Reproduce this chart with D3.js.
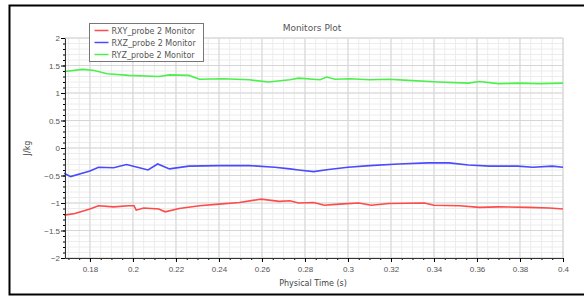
<!DOCTYPE html>
<html>
<head>
<meta charset="utf-8">
<script src="https://cdn.jsdelivr.net/npm/d3@7"></script>
<style>
  body { margin: 0; background: #fff; }
  svg { display: block; font-family: "DejaVu Sans", sans-serif; }
</style>
</head>
<body>
<div class="chart"></div>
<script>
// Monitor series
const tRXY = [0.168, 0.173, 0.180, 0.184, 0.191, 0.198, 0.2005, 0.2015, 0.205, 0.212, 0.215, 0.2215, 0.231, 0.240, 0.2495, 0.2596, 0.268, 0.273, 0.277, 0.284, 0.289, 0.296, 0.305, 0.3108, 0.319, 0.3355, 0.340, 0.352, 0.361, 0.370, 0.384, 0.3936, 0.4];
const vRXY = [-1.22, -1.19, -1.11, -1.05, -1.07, -1.05, -1.05, -1.13, -1.09, -1.11, -1.16, -1.10, -1.05, -1.02, -0.99, -0.93, -0.97, -0.96, -1.00, -0.99, -1.04, -1.02, -1.00, -1.04, -1.01, -1.00, -1.04, -1.05, -1.08, -1.07, -1.08, -1.09, -1.11];

const tRXZ = [0.168, 0.171, 0.180, 0.184, 0.191, 0.197, 0.203, 0.207, 0.2115, 0.217, 0.226, 0.240, 0.254, 0.266, 0.273, 0.277, 0.284, 0.291, 0.300, 0.310, 0.3235, 0.337, 0.347, 0.356, 0.366, 0.379, 0.386, 0.395, 0.4];
const vRXZ = [-0.46, -0.52, -0.42, -0.35, -0.36, -0.30, -0.36, -0.40, -0.29, -0.38, -0.33, -0.32, -0.32, -0.35, -0.38, -0.40, -0.43, -0.39, -0.35, -0.32, -0.29, -0.27, -0.27, -0.31, -0.33, -0.33, -0.35, -0.33, -0.35];

const tRYZ = [0.168, 0.1768, 0.182, 0.188, 0.198, 0.212, 0.217, 0.226, 0.231, 0.242, 0.254, 0.263, 0.273, 0.277, 0.287, 0.290, 0.294, 0.301, 0.310, 0.319, 0.328, 0.342, 0.356, 0.361, 0.370, 0.380, 0.389, 0.4];
const vRYZ = [1.39, 1.43, 1.41, 1.35, 1.32, 1.30, 1.33, 1.32, 1.25, 1.26, 1.24, 1.20, 1.24, 1.27, 1.24, 1.29, 1.25, 1.26, 1.24, 1.25, 1.23, 1.20, 1.18, 1.21, 1.17, 1.18, 1.17, 1.18];

const seriesNames = ["RXY_probe 2 Monitor", "RXZ_probe 2 Monitor", "RYZ_probe 2 Monitor"];
const seriesColors = ["#ff4a4a", "#4a4aff", "#4cf04c"];
const xTicks = [0.18, 0.2, 0.22, 0.24, 0.26, 0.28, 0.3, 0.32, 0.34, 0.36, 0.38, 0.4];
const yTicks = [-2, -1.5, -1, -0.5, 0, 0.5, 1, 1.5, 2];

var width = 584;
var height = 297;
var padding = {left: 65, right: 21, top: 38, bottom: 39};
var plotW = width - padding.left - padding.right;
var plotH = height - padding.top - padding.bottom;

var svg = d3.select(".chart")
    .append("svg")
    .attr("width", width)
    .attr("height", height);

// outer frame (right side runs off the picture)
svg.append("rect")
    .attr("x", 9.5).attr("y", 5.5)
    .attr("width", 590).attr("height", 289)
    .attr("fill", "none")
    .attr("stroke", "#000")
    .attr("stroke-width", 2);

var xScale = d3.scaleLinear()
    .domain([0.1684, 0.4])
    .range([0, plotW]);
var yScale = d3.scaleLinear()
    .domain([-2, 2])
    .range([plotH, 0]);

var g = svg.append("g")
    .attr("transform", "translate(" + padding.left + "," + padding.top + ")");

// minor grid
var xMinor = d3.range(0.17, 0.4001, 0.005);
var yMinor = d3.range(-2, 2.001, 0.1);
g.selectAll(".vminor").data(xMinor).enter().append("line")
    .attr("x1", function(d){ return xScale(d); })
    .attr("x2", function(d){ return xScale(d); })
    .attr("y1", 0).attr("y2", plotH)
    .attr("stroke", "#ececec");
g.selectAll(".hminor").data(yMinor).enter().append("line")
    .attr("y1", function(d){ return yScale(d); })
    .attr("y2", function(d){ return yScale(d); })
    .attr("x1", 0).attr("x2", plotW)
    .attr("stroke", "#ececec");
// major grid
g.selectAll(".vmajor").data(xTicks).enter().append("line")
    .attr("x1", function(d){ return xScale(d); })
    .attr("x2", function(d){ return xScale(d); })
    .attr("y1", 0).attr("y2", plotH)
    .attr("stroke", "#d6d6d6");
g.selectAll(".hmajor").data(yTicks).enter().append("line")
    .attr("y1", function(d){ return yScale(d); })
    .attr("y2", function(d){ return yScale(d); })
    .attr("x1", 0).attr("x2", plotW)
    .attr("stroke", "#d6d6d6");
g.append("rect")
    .attr("width", plotW).attr("height", plotH)
    .attr("fill", "none").attr("stroke", "#ddd");

// series lines
var tData = [tRXY, tRXZ, tRYZ];
var vData = [vRXY, vRXZ, vRYZ];
var line = d3.line()
    .x(function(d){ return xScale(d[0]); })
    .y(function(d){ return yScale(d[1]); });
for (let i = 0; i < 3; i++) {
    var pts = tData[i].map(function(t, j){ return [t, vData[i][j]]; });
    g.append("path")
        .datum(pts)
        .attr("d", line)
        .attr("fill", "none")
        .attr("stroke", seriesColors[i])
        .attr("stroke-width", 1.6);
}

// axes with minor ticks
g.append("g")
    .attr("transform", "translate(0," + plotH + ")")
    .call(d3.axisBottom(xScale).tickValues(xMinor).tickSize(2).tickFormat(""))
    .call(function(s){ s.select(".domain").remove(); });
var xAxis = g.append("g")
    .attr("transform", "translate(0," + plotH + ")")
    .call(d3.axisBottom(xScale).tickValues(xTicks).tickSize(4).tickSizeOuter(0)
        .tickFormat(function(d){ return d3.format("~g")(d); }));
xAxis.select(".domain").attr("stroke", "#333");
xAxis.selectAll("text").attr("fill", "#555").style("font-size", "8px").attr("y", 8);

g.append("g")
    .call(d3.axisLeft(yScale).tickValues(yMinor).tickSize(2).tickFormat(""))
    .call(function(s){ s.select(".domain").remove(); });
var yAxis = g.append("g")
    .call(d3.axisLeft(yScale).tickValues(yTicks).tickSize(4).tickSizeOuter(0)
        .tickFormat(function(d){ return d3.format("~g")(d); }));
yAxis.select(".domain").attr("stroke", "#333");
yAxis.selectAll("text").attr("fill", "#555").style("font-size", "8px").attr("x", -5);

// titles
svg.append("text")
    .attr("x", 312).attr("y", 31)
    .attr("text-anchor", "middle")
    .attr("fill", "#555")
    .style("font-size", "9px")
    .text("Monitors Plot");
svg.append("text")
    .attr("x", 313).attr("y", 286)
    .attr("text-anchor", "middle")
    .attr("fill", "#444")
    .style("font-size", "8px")
    .text("Physical Time (s)");
svg.append("text")
    .attr("transform", "translate(30," + (padding.top + yScale(0)) + ") rotate(-90)")
    .attr("text-anchor", "middle")
    .attr("fill", "#444")
    .style("font-size", "8px")
    .text("J/kg");

// legend
var legend = svg.append("g").attr("transform", "translate(89.5,23.5)");
legend.append("rect")
    .attr("width", 114).attr("height", 38)
    .attr("fill", "#fff").attr("stroke", "#777");
seriesNames.forEach(function(name, i){
    var y = 7 + i * 12;
    legend.append("line")
        .attr("x1", 5).attr("x2", 19)
        .attr("y1", y).attr("y2", y)
        .attr("stroke", seriesColors[i]).attr("stroke-width", 1.5);
    legend.append("text")
        .attr("x", 22).attr("y", y + 3)
        .attr("fill", "#555")
        .style("font-size", "8px")
        .text(name);
});
</script>
</body>
</html>
